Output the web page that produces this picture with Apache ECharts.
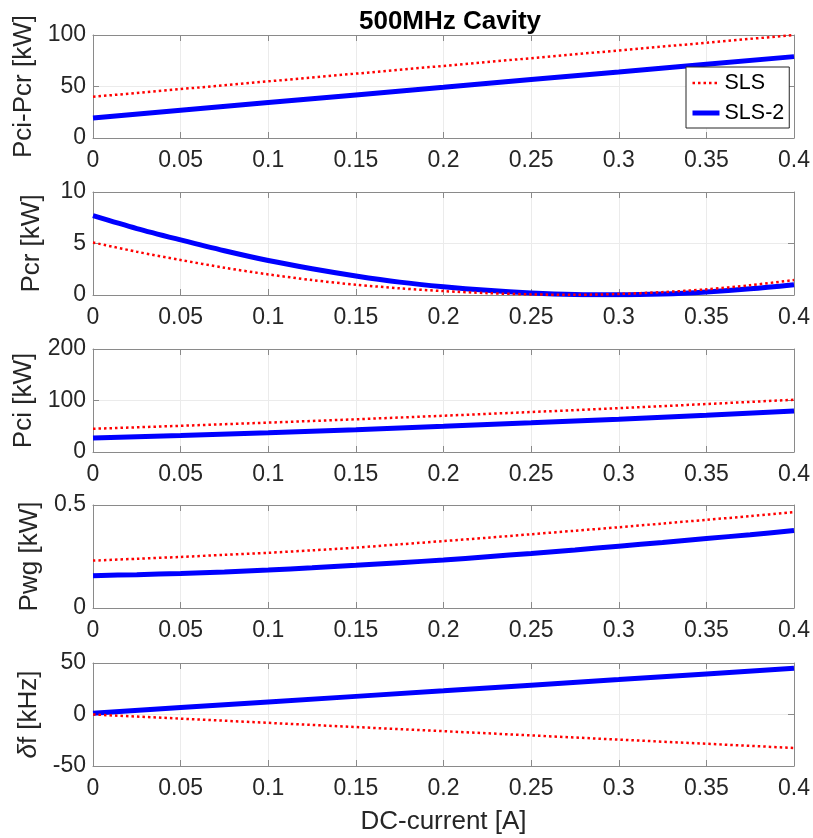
<!DOCTYPE html>
<html><head><meta charset="utf-8">
<script src="https://cdn.jsdelivr.net/npm/echarts@6/dist/echarts.min.js"></script>
<style>html,body{margin:0;padding:0;background:#fff}#c{width:813px;height:838px}</style>
</head><body><div id="c"></div>
<script>
const chartTitle = '500MHz Cavity';
const seriesNames = ['SLS', 'SLS-2'];
const xAxisName = 'DC-current [A]';
const xMin = 0, xMax = 0.4, xStep = 0.05;

// coarse and fine DC-current samples [A]
const current = [0, 0.05, 0.1, 0.15, 0.2, 0.25, 0.3, 0.35, 0.4];
const currentFine = [0, 0.025, 0.05, 0.075, 0.1, 0.125, 0.15, 0.175, 0.2, 0.225, 0.25, 0.275, 0.3, 0.325, 0.35, 0.375, 0.4];

// Panel 1: Pci-Pcr [kW]
const pciPcrSLS  = [40, 47.5, 55, 62.5, 70, 77.5, 85, 92.5, 100];
const pciPcrSLS2 = [19.5, 27, 34.4, 41.8, 49.2, 56.7, 64.1, 71.6, 79];
// Panel 2: Pcr [kW] (fine samples)
const pcrSLS  = [5.1, 4.2, 3.4, 2.65, 2.0, 1.45, 1.0, 0.65, 0.38, 0.18, 0.06, 0.02, 0.1, 0.28, 0.55, 0.95, 1.45];
const pcrSLS2 = [7.7, 6.45, 5.35, 4.3, 3.35, 2.55, 1.85, 1.25, 0.8, 0.45, 0.2, 0.05, 0.02, 0.1, 0.3, 0.6, 1.0];
// Panel 3: Pci [kW]
const pciSLS  = [45.1, 50.9, 57, 63.5, 70.4, 77.6, 85.1, 93.1, 101.5];
const pciSLS2 = [27.2, 32.2, 37.6, 43.4, 49.8, 56.6, 63.8, 71.5, 79.5];
// Panel 4: Pwg [kW] (fine samples)
const pwgSLS  = [0.23, 0.239, 0.248, 0.258, 0.268, 0.28, 0.293, 0.309, 0.325, 0.341, 0.358, 0.375, 0.392, 0.41, 0.428, 0.446, 0.465];
const pwgSLS2 = [0.157, 0.162, 0.168, 0.175, 0.184, 0.195, 0.207, 0.22, 0.233, 0.249, 0.265, 0.282, 0.3, 0.318, 0.337, 0.356, 0.376];
// Panel 5: δf [kHz]
const dfSLS  = [0, -4, -8.1, -12.2, -16.2, -20.3, -24.4, -28.4, -32.5];
const dfSLS2 = [1.3, 6.7, 12.2, 17.6, 23.0, 28.5, 33.9, 39.4, 44.8];

const panelLabels = ['Pci-Pcr [kW]', 'Pcr [kW]', 'Pci [kW]', 'Pwg [kW]', '{d|δ}f [kHz]'];
const panelYTicks = [
  {min: 0, max: 100, interval: 50},
  {min: 0, max: 10, interval: 5},
  {min: 0, max: 200, interval: 100},
  {min: 0, max: 0.5, interval: 0.5},
  {min: -50, max: 50, interval: 50}
];
const panelData = [
  [current, pciPcrSLS, pciPcrSLS2],
  [currentFine, pcrSLS, pcrSLS2],
  [current, pciSLS, pciSLS2],
  [currentFine, pwgSLS, pwgSLS2],
  [current, dfSLS, dfSLS2]
];

const FONT = '"Liberation Sans", Arial, Helvetica, sans-serif';
const TXT = '#262626';
const AX = '#8a8a8a';
const GRIDC = '#ebebeb';
const tops = [35, 192, 349, 505, 663];
const H = 103;

const grids = [], xAxes = [], yAxes = [], series = [];
tops.forEach((t, i) => {
  grids.push({left: 93, right: 16, top: t, height: H, show: false});
  const last = i === tops.length - 1;
  xAxes.push({
    type: 'value', gridIndex: i, min: xMin, max: xMax, interval: xStep, position: 'bottom',
    axisLine: {show: true, onZero: false, lineStyle: {color: AX, width: 1}},
    axisTick: {show: true, inside: true, length: 6, lineStyle: {color: AX}},
    axisLabel: {show: true, color: TXT, fontSize: 23, fontFamily: FONT, margin: 11},
    splitLine: {show: true, lineStyle: {color: GRIDC, width: 1}},
    name: last ? xAxisName : '', nameLocation: 'middle', nameGap: 43,
    nameTextStyle: {color: TXT, fontSize: 26, fontFamily: FONT}
  });
  xAxes.push({
    type: 'value', gridIndex: i, min: xMin, max: xMax, interval: xStep, position: 'top',
    axisLine: {show: true, onZero: false, lineStyle: {color: AX, width: 1}},
    axisTick: {show: true, inside: true, length: 6, lineStyle: {color: AX}},
    axisLabel: {show: false}, splitLine: {show: false}
  });
  const yt = panelYTicks[i];
  yAxes.push({
    type: 'value', gridIndex: i, min: yt.min, max: yt.max, interval: yt.interval, position: 'left',
    axisLine: {show: true, onZero: false, lineStyle: {color: AX, width: 1}},
    axisTick: {show: true, inside: true, length: 6, lineStyle: {color: AX}},
    axisLabel: {show: true, color: TXT, fontSize: 23, fontFamily: FONT, margin: 7},
    splitLine: {show: true, lineStyle: {color: GRIDC, width: 1}},
    name: panelLabels[i], nameLocation: 'middle', nameGap: 48,
    nameTextStyle: {color: TXT, fontSize: 26, fontFamily: FONT,
      rich: {d: {fontSize: 26, fontFamily: FONT, fontStyle: 'italic', color: TXT}}}
  });
  yAxes.push({
    type: 'value', gridIndex: i, min: yt.min, max: yt.max, interval: yt.interval, position: 'right',
    axisLine: {show: true, onZero: false, lineStyle: {color: AX, width: 1}},
    axisTick: {show: true, inside: true, length: 6, lineStyle: {color: AX}},
    axisLabel: {show: false}, splitLine: {show: false}
  });
  const [xs, a, b] = panelData[i];
  const curved = (i === 1 || i === 3);
  series.push({
    name: seriesNames[0], type: 'line', xAxisIndex: 2 * i, yAxisIndex: 2 * i,
    data: xs.map((x, k) => [x, a[k]]), symbol: 'none', smooth: curved ? 0.3 : false,
    lineStyle: {color: '#ff0000', width: 2.5, type: [2.5, 3]}, itemStyle: {color: '#ff0000'}, z: 3
  });
  series.push({
    name: seriesNames[1], type: 'line', xAxisIndex: 2 * i, yAxisIndex: 2 * i,
    data: xs.map((x, k) => [x, b[k]]), symbol: 'none', smooth: curved ? 0.3 : false,
    lineStyle: {color: '#0000ff', width: 5}, itemStyle: {color: '#0000ff'}, z: 2
  });
});

const chart = echarts.init(document.getElementById('c'), null, {renderer: 'canvas'});
chart.setOption({
  animation: false,
  backgroundColor: '#ffffff',
  title: {text: chartTitle, left: 445, top: 4, textAlign: 'center',
    textStyle: {fontSize: 26, fontWeight: 'bold', color: '#000', fontFamily: FONT}},
  legend: {
    data: [
      {name: seriesNames[0], lineStyle: {color: '#ff0000', width: 2.5, type: [2.5, 3]}},
      {name: seriesNames[1], lineStyle: {color: '#0000ff', width: 5}}
    ],
    orient: 'vertical', left: 686, top: 67,
    padding: [5, 5, 4, 4], itemGap: 8, itemWidth: 27, itemHeight: 14, itemTextGap: 4,
    itemStyle: {opacity: 0},
    backgroundColor: '#ffffff', borderColor: '#262626', borderWidth: 1, borderRadius: 0,
    textStyle: {fontSize: 21.5, color: '#000', fontFamily: FONT}, z: 10
  },
  grid: grids, xAxis: xAxes, yAxis: yAxes, series: series
});
</script></body></html>
